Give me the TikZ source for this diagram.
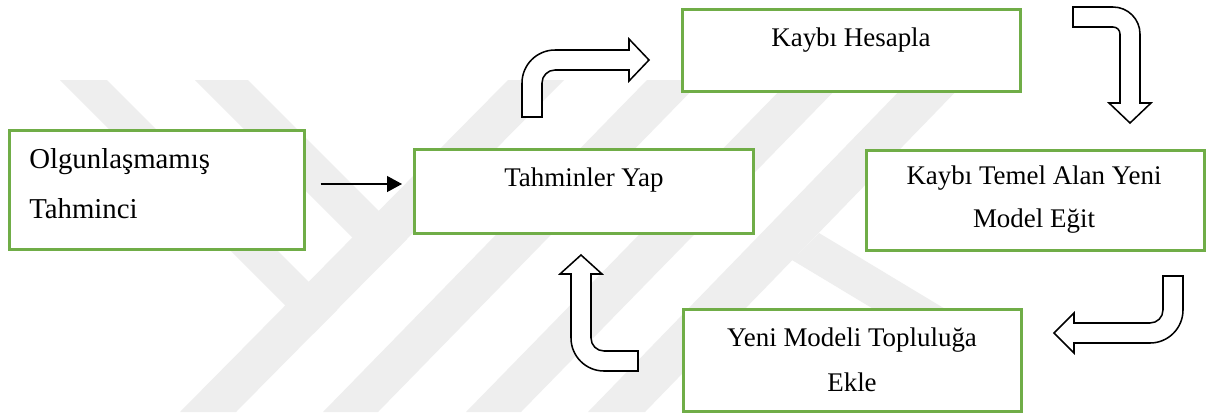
\documentclass[tikz,border=0pt]{standalone}
\usepackage{fontspec}
\setmainfont{Liberation Serif}
\usetikzlibrary{arrows.meta,calc}
\definecolor{boxgreen}{RGB}{112,173,71}
\definecolor{wmgray}{RGB}{238,238,238}
\begin{document}
\begin{tikzpicture}[x=0.75pt,y=-0.75pt,
  box/.style={draw=boxgreen, line width=1.95pt, fill=white, rectangle, inner sep=0pt, anchor=north west},
  lbl/.style={inner sep=0pt, font=\rmfamily\fontsize{20.2}{24}\selectfont, anchor=base},
  biglbl/.style={lbl, font=\rmfamily\fontsize{21.6}{26}\selectfont, anchor=base west},
  blockarrow/.style={draw=black, fill=white, line width=1.15pt, line join=miter},
  wm/.style={fill=wmgray, draw=none},
  link/.style={draw=black, line width=0.9pt, -{Triangle[length=11.25pt,width=12pt]}}
]
\useasboundingbox (0,0) rectangle (1207,412);
\fill[white] (0,0) rectangle (1207,412);

% faint background emblem made of slanted bands
\fill[wm] (60,80) -- (107,80) -- (337,310) -- (313.5,333.5) -- cycle;
\fill[wm] (195,80) -- (248,80) -- (407,239) -- (380.6,265.6) -- cycle;
\fill[wm] (508,80) -- (564,80) -- (236,412) -- (180,412) -- cycle;
\fill[wm] (647,80) -- (702,80) -- (378,412) -- (323,412) -- cycle;
\fill[wm] (790,80) -- (845,80) -- (521,412) -- (466,412) -- cycle;
\fill[wm] (910,80) -- (967,80) -- (645,412) -- (588,412) -- cycle;
\fill[wm] (819,233) -- (1000,342) -- (1000,385) -- (792,260) -- cycle;

% boxes
\node[box, minimum width=295*0.75pt, minimum height=119*0.75pt] (b1) at (8,129) {};
\node[box, minimum width=339*0.75pt, minimum height=84*0.75pt] (b2) at (413,148) {};
\node[box, minimum width=338*0.75pt, minimum height=82*0.75pt] (b3) at (681,8) {};
\node[box, minimum width=338*0.75pt, minimum height=100*0.75pt] (b4) at (865,149) {};
\node[box, minimum width=338*0.75pt, minimum height=102*0.75pt] (b5) at (682,308) {};

% labels
\node[biglbl] (t1a) at (29,168) {Olgunlaşmamış};
\node[biglbl] (t1b) at (29,218) {Tahminci};
\node[lbl] (t2) at (584,186) {Tahminler Yap};
\node[lbl] (t3) at (851,46) {Kaybı Hesapla};
\node[lbl] (t4a) at (1034,184) {Kaybı Temel Alan Yeni};
\node[lbl] (t4b) at (1034,227) {Model Eğit};
\node[lbl] (t5a) at (852,346) {Yeni Modeli Topluluğa};
\node[lbl] (t5b) at (852,391) {Ekle};

% thin connector
\draw[link] ($(b1.east)+(15,-5.8)$) -- ($(b2.west)+(-11,-7.3)$);

% bent block arrows
\draw[blockarrow] (522,117) -- (522,83) .. controls (522,64.8) and (536.8,50) .. (555,50)
  -- (629,50) -- (629,39) -- (649,60) -- (629,81) -- (629,70) -- (555,70)
  .. controls (547.8,70) and (542,75.8) .. (542,83) -- (542,117) -- cycle;
\draw[blockarrow] (1073,7) -- (1113,7) .. controls (1127.9,7) and (1140,19.1) .. (1140,34)
  -- (1140,103) -- (1151,103) -- (1130,123) -- (1109,103) -- (1120,103) -- (1120,34)
  .. controls (1120,30.1) and (1116.9,27) .. (1113,27) -- (1073,27) -- cycle;
\draw[blockarrow] (1163,276) -- (1183,276) -- (1183,310) .. controls (1183,328.2) and (1168.2,343) .. (1150,343)
  -- (1074,343) -- (1074,353) -- (1054,333) -- (1074,313) -- (1074,323) -- (1150,323)
  .. controls (1157.2,323) and (1163,317.2) .. (1163,310) -- cycle;
\draw[blockarrow] (638,351) -- (604,351) .. controls (596.8,351) and (591,345.2) .. (591,338)
  -- (591,274) -- (602,274) -- (581,255) -- (560,274) -- (571,274) -- (571,338)
  .. controls (571,356.2) and (585.8,371) .. (604,371) -- (638,371) -- cycle;
\end{tikzpicture}
\end{document}
